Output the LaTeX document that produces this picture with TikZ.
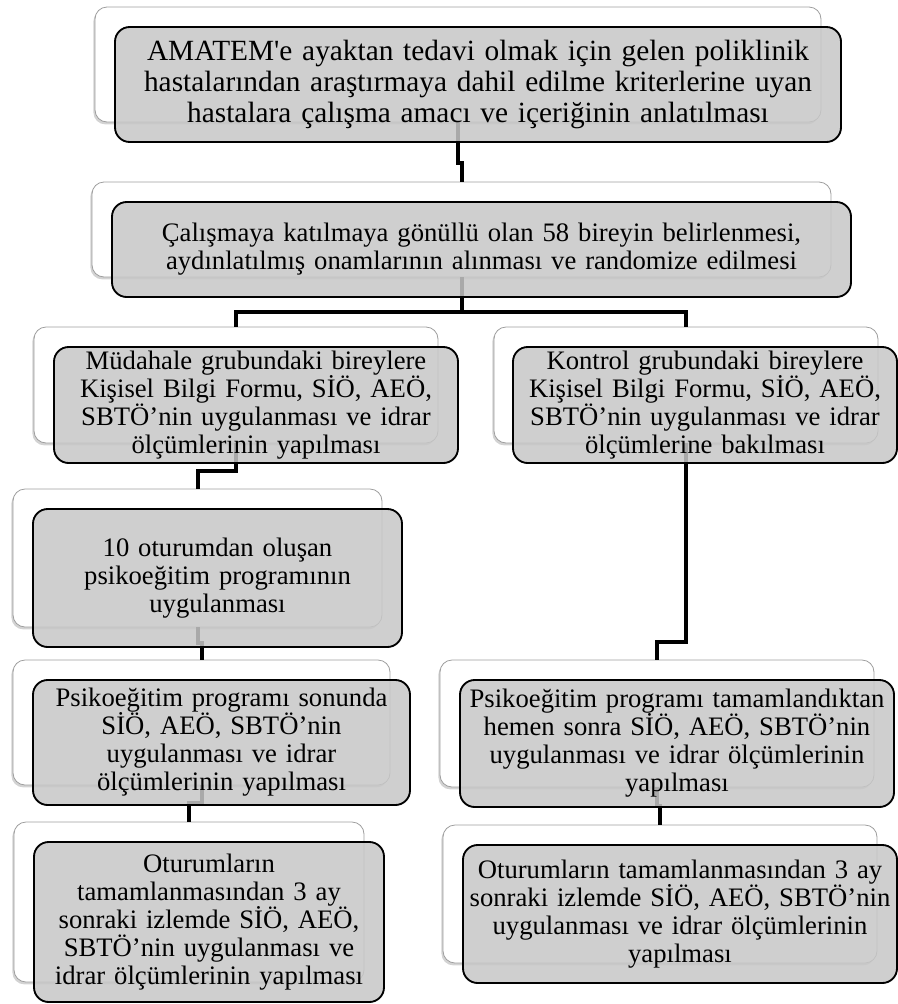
\documentclass[tikz,border=0pt]{standalone}
\usepackage{fontspec}
\newfontfamily\trfont{Liberation Serif}
\usetikzlibrary{shadows}

\begin{document}
\begin{tikzpicture}[x=0.75pt,y=-0.75pt,semithick]
		\tikzstyle{back}=[draw=black!38,fill=white,rounded corners=9pt,line width=0.6pt,
		drop shadow={shadow xshift=-1.2pt,shadow yshift=-1.8pt,opacity=0.35}]
		\tikzstyle{front}=[draw=black,fill=black!22,fill opacity=0.85,text opacity=1,
		rounded corners=11pt,line width=1.4pt,align=center,inner sep=0pt,
		font=\trfont\fontsize{20}{21}\selectfont]
		\tikzstyle{link}=[line width=3pt]
		
		\useasboundingbox (0,0) rectangle (898,1004);
		
		% back boxes
		\node[back,minimum width=544.5pt,minimum height=86.25pt] (b1)  at (458,64.5)   {};
		\node[back,minimum width=554.25pt,minimum height=71.25pt] (b2) at (461.5,229.5) {};
		\node[back,minimum width=303pt,minimum height=87pt]      (b3l) at (236,385)    {};
		\node[back,minimum width=288pt,minimum height=87pt]      (b3r) at (686,385)    {};
		\node[back,minimum width=276.75pt,minimum height=103.5pt] (b4) at (197.5,558)  {};
		\node[back,minimum width=282.75pt,minimum height=93.75pt] (b5l) at (201.5,722.5) {};
		\node[back,minimum width=325.5pt,minimum height=95.25pt] (b5r) at (657,723.5)  {};
		\node[back,minimum width=262.5pt,minimum height=120pt]   (b6l) at (189,902)    {};
		\node[back,minimum width=325.5pt,minimum height=103.5pt] (b6r) at (660,894)    {};
		
		% connectors
		\draw[link] (b1.south) -- ++(0,41) -| (b2.north);
		\draw[link] (b2.south) -- ++(0,35) coordinate (split) -| (b3l.north);
		\draw[link] (split) -| (b3r.north);
		\draw[link] (b3l.south) -- ++(0,28) -| (b4.north);
		\draw[link] (b4.south) -- ++(0,16) -| (b5l.north);
		\draw[link] (b5l.south) -- ++(0,18) -| (b6l.north);
		\draw[link] (b3r.south) -- ++(0,199) -| (b5r.north);
		\draw[link] (b5r.south) -- ++(0,19) -| (b6r.north);
		
		% front boxes
		\node[front,minimum width=544.5pt,minimum height=86.25pt,text width=536pt,
		font=\trfont\fontsize{22}{23.5}\selectfont] (f1) at (478,84.5)
		{AMATEM'e ayaktan tedavi olmak için gelen poliklinik\\
			hastalarından araştırmaya dahil edilme kriterlerine uyan\\
			hastalara çalışma amacı ve içeriğinin anlatılması};
		\node[front,minimum width=554.25pt,minimum height=71.25pt,text width=546pt] (f2) at (481.5,249.5)
		{Çalışmaya katılmaya gönüllü olan 58 bireyin belirlenmesi,\\
			aydınlatılmış onamlarının alınması ve randomize edilmesi};
		\node[front,minimum width=303pt,minimum height=87pt,text width=296pt] (f3l) at (256,405)
		{Müdahale grubundaki bireylere\\ Kişisel Bilgi Formu, SİÖ, AEÖ,\\
			SBTÖ’nin uygulanması ve idrar\\ ölçümlerinin yapılması};
		\node[front,minimum width=288pt,minimum height=87pt,text width=281pt] (f3r) at (705,405)
		{Kontrol grubundaki bireylere\\ Kişisel Bilgi Formu, SİÖ, AEÖ,\\
			SBTÖ’nin uygulanması ve idrar\\ ölçümlerine bakılması};
		\node[front,minimum width=276.75pt,minimum height=103.5pt,text width=270pt] (f4) at (217.5,578)
		{10 oturumdan oluşan\\ psikoeğitim programının\\ uygulanması};
		\node[front,minimum width=282.75pt,minimum height=93.75pt,text width=276pt] (f5l) at (221.5,742.5)
		{Psikoeğitim programı sonunda\\ SİÖ, AEÖ, SBTÖ’nin\\
			uygulanması ve idrar\\ ölçümlerinin yapılması};
		\node[front,minimum width=325.5pt,minimum height=95.25pt,text width=321pt] (f5r) at (677,743.5)
		{Psikoeğitim programı tamamlandıktan\\ hemen sonra SİÖ, AEÖ, SBTÖ’nin\\
			uygulanması ve idrar ölçümlerinin\\ yapılması};
		\node[front,minimum width=262.5pt,minimum height=120pt,text width=256pt] (f6l) at (209,922)
		{Oturumların\\ tamamlanmasından 3 ay\\ sonraki izlemde SİÖ, AEÖ,\\
			SBTÖ’nin uygulanması ve\\ idrar ölçümlerinin yapılması};
		\node[front,minimum width=325.5pt,minimum height=103.5pt,text width=321pt] (f6r) at (680,914)
		{Oturumların tamamlanmasından 3 ay\\ sonraki izlemde SİÖ, AEÖ, SBTÖ’nin\\
			uygulanması ve idrar ölçümlerinin\\ yapılması};
\end{tikzpicture}
\end{document}
